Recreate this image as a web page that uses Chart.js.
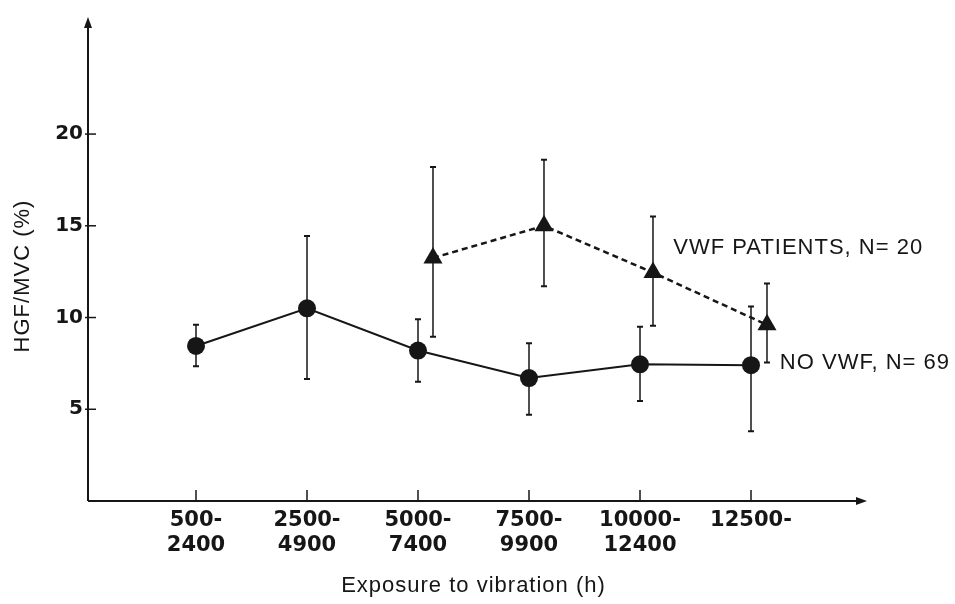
<!DOCTYPE html>
<html>
<head>
<meta charset="utf-8">
<script src="https://cdn.jsdelivr.net/npm/chart.js@4.4.1/dist/chart.umd.min.js"></script>
<style>
  html, body { margin: 0; padding: 0; background: #ffffff; }
  #wrap { width: 955px; height: 604px; position: relative; }
</style>
</head>
<body>
<div id="wrap"><canvas id="c" width="955" height="604"></canvas></div>
<script>
// ---- Data ----
const categories = [['500-', '2400'], ['2500-', '4900'], ['5000-', '7400'], ['7500-', '9900'], ['10000-', '12400'], ['12500-']];
const yTickValues = [5, 10, 15, 20];

const noVwfX    = [0, 1, 2, 3, 4, 5];
const noVwfMean = [8.45, 10.5, 8.2, 6.7, 7.45, 7.4];
const noVwfLow  = [7.35, 6.65, 6.5, 4.7, 5.45, 3.8];
const noVwfHigh = [9.6, 14.45, 9.9, 8.6, 9.5, 10.6];

const vwfX    = [2.135, 3.135, 4.117, 5.144];
const vwfMean = [13.25, 15.0, 12.45, 9.6];
const vwfLow  = [8.95, 11.7, 9.55, 7.55];
const vwfHigh = [18.2, 18.6, 15.5, 11.85];

const seriesLabels = ['NO VWF, N= 69', 'VWF PATIENTS, N= 20'];
const xTitle = 'Exposure to vibration (h)';
const yTitle = 'HGF/MVC (%)';

// ---- Build datasets ----
function pts(xs, ys) { return xs.map((x, i) => ({ x: x, y: ys[i] })); }

const INK = '#161616';
const textFont = '22px "Liberation Sans", Arial, sans-serif';

const axesAndAnnotations = {
  id: 'axesAndAnnotations',
  beforeDatasetsDraw(chart) {
    const ctx = chart.ctx;
    const xs = chart.scales.x, ys = chart.scales.y;
    const ca = chart.chartArea;
    ctx.save();
    ctx.strokeStyle = INK;
    ctx.fillStyle = INK;
    ctx.lineWidth = 2;
    // y axis
    ctx.beginPath();
    ctx.moveTo(ca.left, ca.bottom);
    ctx.lineTo(ca.left, ca.top + 8);
    ctx.stroke();
    ctx.beginPath();
    ctx.moveTo(ca.left, ca.top);
    ctx.lineTo(ca.left - 4, ca.top + 11);
    ctx.lineTo(ca.left + 4, ca.top + 11);
    ctx.closePath();
    ctx.fill();
    // x axis
    ctx.beginPath();
    ctx.moveTo(ca.left, ca.bottom);
    ctx.lineTo(ca.right - 8, ca.bottom);
    ctx.stroke();
    ctx.beginPath();
    ctx.moveTo(ca.right, ca.bottom);
    ctx.lineTo(ca.right - 11, ca.bottom - 4);
    ctx.lineTo(ca.right - 11, ca.bottom + 4);
    ctx.closePath();
    ctx.fill();
    // y ticks (crossing the axis)
    ctx.lineWidth = 1.5;
    yTickValues.forEach(v => {
      const py = ys.getPixelForValue(v);
      ctx.beginPath();
      ctx.moveTo(ca.left - 3, py);
      ctx.lineTo(ca.left + 8, py);
      ctx.stroke();
    });
    // x ticks (inward)
    categories.forEach((c, i) => {
      const px = xs.getPixelForValue(i);
      ctx.beginPath();
      ctx.moveTo(px, ca.bottom);
      ctx.lineTo(px, ca.bottom - 11);
      ctx.stroke();
    });
    // error bars
    const drawErr = (xArr, lo, hi) => {
      ctx.lineWidth = 1.5;
      xArr.forEach((x, i) => {
        const px = xs.getPixelForValue(x);
        const p1 = ys.getPixelForValue(lo[i]);
        const p2 = ys.getPixelForValue(hi[i]);
        ctx.beginPath();
        ctx.moveTo(px, p1);
        ctx.lineTo(px, p2);
        ctx.stroke();
        ctx.lineWidth = 2;
        ctx.beginPath();
        ctx.moveTo(px - 3, p1); ctx.lineTo(px + 3, p1);
        ctx.moveTo(px - 3, p2); ctx.lineTo(px + 3, p2);
        ctx.stroke();
        ctx.lineWidth = 1.5;
      });
    };
    drawErr(noVwfX, noVwfLow, noVwfHigh);
    drawErr(vwfX, vwfLow, vwfHigh);
    ctx.restore();
  },
  afterDraw(chart) {
    const ctx = chart.ctx;
    const xs = chart.scales.x, ys = chart.scales.y;
    const ca = chart.chartArea;
    ctx.save();
    ctx.fillStyle = INK;
    ctx.font = textFont;
    try { ctx.letterSpacing = '1px'; } catch (e) {}
    ctx.textBaseline = 'middle';
    // series labels
    ctx.textAlign = 'left';
    ctx.fillText(seriesLabels[1], xs.getPixelForValue(4.3), ys.getPixelForValue(13.8));
    ctx.fillText(seriesLabels[0], xs.getPixelForValue(5.26), ys.getPixelForValue(7.5));
    // x title
    ctx.textAlign = 'center';
    ctx.fillText(xTitle, (ca.left + ca.right) / 2 - 4, 586);
    // y title
    ctx.translate(23, 276);
    ctx.rotate(-Math.PI / 2);
    ctx.fillText(yTitle, 0, 0);
    ctx.restore();
  }
};

const chart = new Chart(document.getElementById('c'), {
  type: 'scatter',
  data: {
    datasets: [
      {
        label: seriesLabels[0],
        data: pts(noVwfX, noVwfMean),
        showLine: true,
        borderColor: INK,
        backgroundColor: INK,
        borderWidth: 2,
        pointStyle: 'circle',
        pointRadius: 9,
        pointHoverRadius: 9,
        pointBorderWidth: 0
      },
      {
        label: seriesLabels[1],
        data: pts(vwfX, vwfMean),
        showLine: true,
        borderColor: INK,
        backgroundColor: INK,
        borderWidth: 2.5,
        borderDash: [6, 4],
        pointStyle: 'triangle',
        pointRadius: 11,
        pointHoverRadius: 11,
        pointBorderWidth: 0
      }
    ]
  },
  options: {
    responsive: false,
    animation: false,
    events: [],
    layout: { padding: { top: 13, right: 88, bottom: 0, left: 0 } },
    plugins: {
      legend: { display: false },
      tooltip: { enabled: false },
      title: { display: false }
    },
    scales: {
      x: {
        type: 'linear',
        min: -0.973,
        max: 6.045,
        grid: { display: false, drawTicks: false },
        border: { display: false },
        afterBuildTicks(scale) { scale.ticks = categories.map((c, i) => ({ value: i })); },
        afterFit(scale) { scale.height = 103; },
        ticks: {
          autoSkip: false,
          maxRotation: 0,
          padding: 7,
          color: INK,
          font: { family: '"DejaVu Sans", sans-serif', size: 21, weight: 'bold', lineHeight: 1.2 },
          callback: (v) => categories[v]
        }
      },
      y: {
        type: 'linear',
        min: 0,
        max: 26.38,
        grid: { display: false, drawTicks: false },
        border: { display: false },
        afterBuildTicks(scale) { scale.ticks = yTickValues.map(v => ({ value: v })); },
        afterFit(scale) { scale.width = 88; },
        ticks: {
          padding: 5,
          color: INK,
          font: { family: '"DejaVu Sans", sans-serif', size: 20, weight: 'bold' }
        }
      }
    }
  },
  plugins: [axesAndAnnotations]
});
</script>
</body>
</html>
